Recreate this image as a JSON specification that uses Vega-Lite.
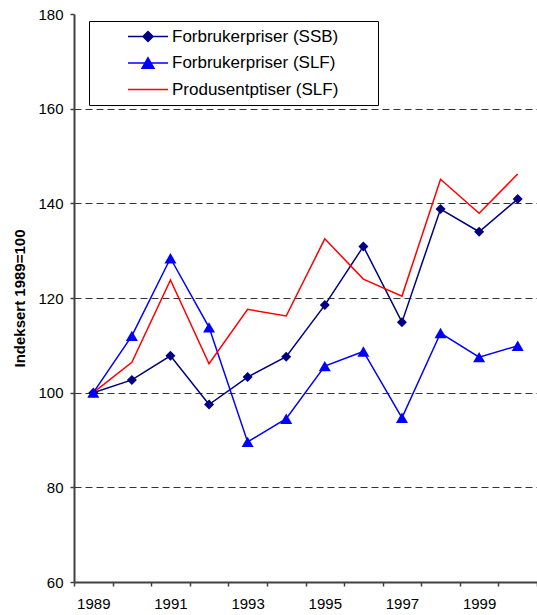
{
  "$schema": "https://vega.github.io/schema/vega-lite/v6.json",
  "autosize": {"type": "none"},
  "padding": {"left": 74, "top": 14, "right": 0, "bottom": 33},
  "width": 463,
  "height": 568,
  "background": "white",
  "config": {
    "view": {"stroke": null},
    "font": "Liberation Sans",
    "axis": {"labelFont": "Liberation Sans", "titleFont": "Liberation Sans", "labelColor": "#000000", "titleColor": "#000000"}
  },
  "data": {
    "values": [
      {"year": 1989, "series": "Forbrukerpriser (SSB)", "value": 100},
      {"year": 1990, "series": "Forbrukerpriser (SSB)", "value": 102.7},
      {"year": 1991, "series": "Forbrukerpriser (SSB)", "value": 107.8},
      {"year": 1992, "series": "Forbrukerpriser (SSB)", "value": 97.5},
      {"year": 1993, "series": "Forbrukerpriser (SSB)", "value": 103.3},
      {"year": 1994, "series": "Forbrukerpriser (SSB)", "value": 107.6},
      {"year": 1995, "series": "Forbrukerpriser (SSB)", "value": 118.5},
      {"year": 1996, "series": "Forbrukerpriser (SSB)", "value": 130.9},
      {"year": 1997, "series": "Forbrukerpriser (SSB)", "value": 114.9},
      {"year": 1998, "series": "Forbrukerpriser (SSB)", "value": 138.8},
      {"year": 1999, "series": "Forbrukerpriser (SSB)", "value": 134.0},
      {"year": 2000, "series": "Forbrukerpriser (SSB)", "value": 140.9},
      {"year": 1989, "series": "Forbrukerpriser (SLF)", "value": 100},
      {"year": 1990, "series": "Forbrukerpriser (SLF)", "value": 112.0},
      {"year": 1991, "series": "Forbrukerpriser (SLF)", "value": 128.4},
      {"year": 1992, "series": "Forbrukerpriser (SLF)", "value": 113.8},
      {"year": 1993, "series": "Forbrukerpriser (SLF)", "value": 89.6},
      {"year": 1994, "series": "Forbrukerpriser (SLF)", "value": 94.5},
      {"year": 1995, "series": "Forbrukerpriser (SLF)", "value": 105.6},
      {"year": 1996, "series": "Forbrukerpriser (SLF)", "value": 108.7},
      {"year": 1997, "series": "Forbrukerpriser (SLF)", "value": 94.7},
      {"year": 1998, "series": "Forbrukerpriser (SLF)", "value": 112.6},
      {"year": 1999, "series": "Forbrukerpriser (SLF)", "value": 107.5},
      {"year": 2000, "series": "Forbrukerpriser (SLF)", "value": 109.9},
      {"year": 1989, "series": "Produsentptiser (SLF)", "value": 100},
      {"year": 1990, "series": "Produsentptiser (SLF)", "value": 106.4},
      {"year": 1991, "series": "Produsentptiser (SLF)", "value": 123.8},
      {"year": 1992, "series": "Produsentptiser (SLF)", "value": 106.1},
      {"year": 1993, "series": "Produsentptiser (SLF)", "value": 117.6},
      {"year": 1994, "series": "Produsentptiser (SLF)", "value": 116.2},
      {"year": 1995, "series": "Produsentptiser (SLF)", "value": 132.5},
      {"year": 1996, "series": "Produsentptiser (SLF)", "value": 124.0},
      {"year": 1997, "series": "Produsentptiser (SLF)", "value": 120.4},
      {"year": 1998, "series": "Produsentptiser (SLF)", "value": 145.1},
      {"year": 1999, "series": "Produsentptiser (SLF)", "value": 137.9},
      {"year": 2000, "series": "Produsentptiser (SLF)", "value": 146.2}
    ]
  },
  "encoding": {
    "x": {
      "field": "year",
      "type": "quantitative",
      "scale": {"domain": [1988.5, 2000.5], "nice": false, "zero": false},
      "axis": {
        "values": [1988.5, 1989, 1989.5, 1990.5, 1991, 1991.5, 1992.5, 1993, 1993.5, 1994.5, 1995, 1995.5, 1996.5, 1997, 1997.5, 1998.5, 1999, 1999.5, 2000.5],
        "labelExpr": "datum.value % 2 == 1 ? '' + datum.value : ''",
        "tickOpacity": {"condition": {"test": "datum.value % 1 == 0", "value": 0}, "value": 1},
        "labelOverlap": false,
        "labelFlush": false,
        "grid": false,
        "title": null,
        "domainColor": "#404040",
        "domainWidth": 2,
        "tickColor": "#404040",
        "tickWidth": 1.5,
        "tickSize": 4,
        "labelFontSize": 15,
        "labelPadding": 10
      }
    },
    "y": {
      "field": "value",
      "type": "quantitative",
      "scale": {"domain": [60, 180], "nice": false, "zero": false},
      "axis": {
        "values": [60, 80, 100, 120, 140, 160, 180],
        "title": "Indeksert 1989=100",
        "titleFontSize": 15,
        "titleFontWeight": "bold",
        "titleAngle": 270,
        "titleBaseline": "alphabetic",
        "titleAlign": "center",
        "titleX": -50,
        "titleY": 284,
        "grid": true,
        "gridDash": [7, 4],
        "gridColor": "#333333",
        "gridWidth": 1,
        "gridOpacity": {"condition": {"test": "datum.value == 60 || datum.value == 180", "value": 0}, "value": 1},
        "domainColor": "#404040",
        "domainWidth": 2,
        "tickColor": "#404040",
        "tickWidth": 1.5,
        "tickSize": 4,
        "labelFontSize": 15,
        "labelPadding": 7
      }
    }
  },
  "layer": [
    {
      "mark": {"type": "point", "filled": true, "opacity": 0, "strokeWidth": 1.5},
      "encoding": {
        "color": {
          "field": "series",
          "type": "nominal",
          "scale": {"domain": ["Forbrukerpriser (SSB)", "Forbrukerpriser (SLF)", "Produsentptiser (SLF)"], "range": ["#000080", "#0000FF", "#FF0000"]},
          "legend": {
            "title": ".",
            "titleOrient": "right",
            "titleOpacity": 0,
            "titleFontSize": 8,
            "titlePadding": 30,
            "orient": "none",
            "legendX": 15,
            "legendY": 7,
            "padding": 7,
            "strokeColor": "#000000",
            "fillColor": "#ffffff",
            "symbolSize": 100,
            "symbolStrokeWidth": 1.5,
            "symbolOpacity": 1,
            "symbolOffset": 43.5,
            "labelOffset": 15.5,
            "labelFontSize": 17,
            "labelFont": "Liberation Sans",
            "labelColor": "#000000",
            "labelLimit": 400,
            "rowPadding": 8.5
          }
        },
        "shape": {
          "field": "series",
          "type": "nominal",
          "scale": {
            "domain": ["Forbrukerpriser (SSB)", "Forbrukerpriser (SLF)", "Produsentptiser (SLF)"],
            "range": ["M-4,0L4,0M0,-1L1,0L0,1L-1,0Z", "M-4,0L4,0M0,-1.04L1.2,1.04L-1.2,1.04Z", "M-4,0L4,0"]
          },
          "legend": {
            "title": ".",
            "titleOrient": "right",
            "titleOpacity": 0,
            "titleFontSize": 8,
            "titlePadding": 30,
            "orient": "none",
            "legendX": 15,
            "legendY": 7,
            "padding": 7,
            "strokeColor": "#000000",
            "fillColor": "#ffffff",
            "symbolSize": 100,
            "symbolStrokeWidth": 1.5,
            "symbolOpacity": 1,
            "symbolOffset": 43.5,
            "labelOffset": 15.5,
            "labelFontSize": 17,
            "labelFont": "Liberation Sans",
            "labelColor": "#000000",
            "labelLimit": 400,
            "rowPadding": 8.5
          }
        }
      }
    },
    {
      "data": {"values": [{}]},
      "mark": {"type": "rule", "color": "#a0a0a0", "strokeWidth": 2},
      "encoding": {"y": {"datum": 180}, "x": null}
    },
    {
      "mark": {"type": "line", "strokeWidth": 1.5},
      "encoding": {
        "color": {"field": "series", "type": "nominal"}
      }
    },
    {
      "transform": [{"filter": "datum.series == 'Forbrukerpriser (SSB)'"}],
      "mark": {"type": "point", "filled": true, "opacity": 1, "shape": "diamond", "size": 100},
      "encoding": {
        "color": {"field": "series", "type": "nominal"}
      }
    },
    {
      "transform": [{"filter": "datum.series == 'Forbrukerpriser (SLF)'"}],
      "mark": {"type": "point", "filled": true, "opacity": 1, "shape": "triangle-up", "size": 144},
      "encoding": {
        "color": {"field": "series", "type": "nominal"}
      }
    }
  ]
}
